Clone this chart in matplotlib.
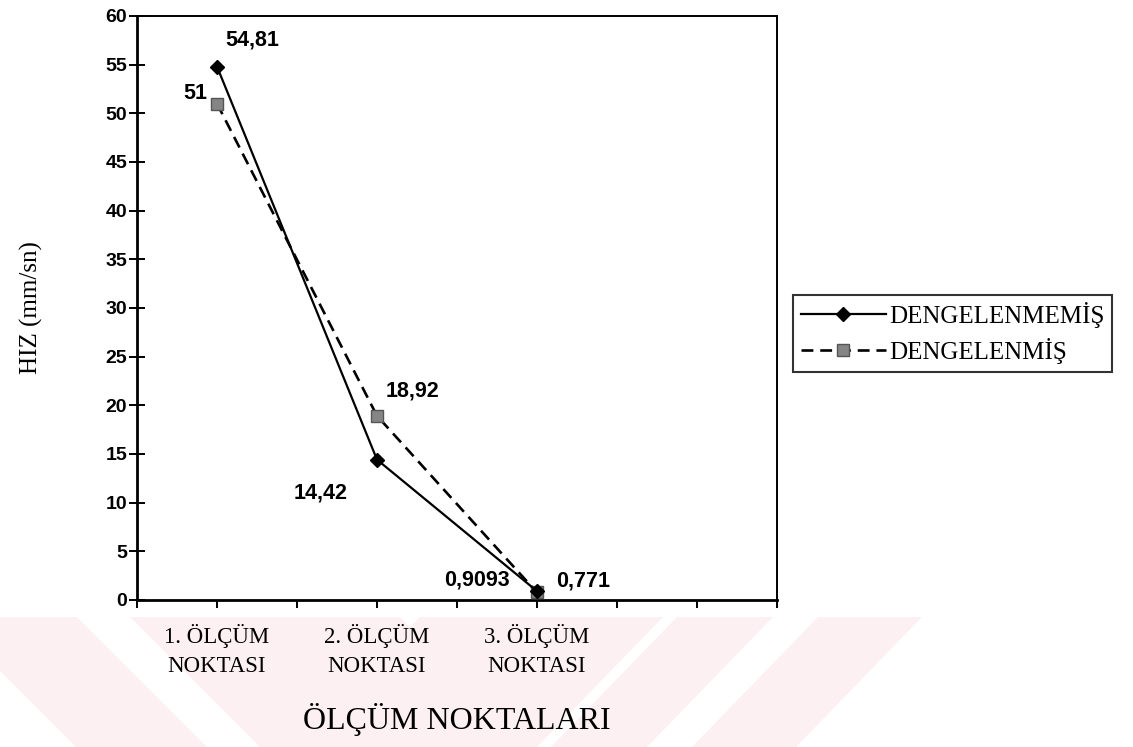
import numpy as np
import matplotlib
matplotlib.use("Agg")
import matplotlib.pyplot as plt
from matplotlib.patches import Polygon

# ---- data -------------------------------------------------------------
categories = ["1. ÖLÇÜM\nNOKTASI", "2. ÖLÇÜM\nNOKTASI", "3. ÖLÇÜM\nNOKTASI"]
dengelenmemis = [54.81, 14.42, 0.9093]
dengelenmis = [51.0, 18.92, 0.771]
lbl_dengelenmemis = ["54,81", "14,42", "0,9093"]
lbl_dengelenmis = ["51", "18,92", "0,771"]
y_ticks = list(range(0, 61, 5))

W, H = 1133, 747
fig = plt.figure(figsize=(W / 100, H / 100), dpi=100)
fig.patch.set_facecolor("white")

# faint diagonal band decoration along the bottom of the page
bands = [
    [(-54, 617), (77, 617), (207, 747), (76, 747)],
    [(130, 617), (400, 617), (530, 747), (260, 747)],
    [(420, 617), (663, 617), (537, 747), (294, 747)],
    [(677, 617), (773, 617), (647, 747), (551, 747)],
    [(818, 617), (922, 617), (796, 747), (692, 747)],
]
for b in bands:
    pts = [(px / W, 1 - py / H) for px, py in b]
    fig.add_artist(Polygon(pts, closed=True, transform=fig.transFigure,
                           facecolor="#fdf0f3", edgecolor="none", zorder=-5))

ax = fig.add_axes([137 / W, 1 - 600 / H, 640 / W, 584 / H])
ax.set_facecolor("white")

x = np.arange(len(categories))

ln1, = ax.plot(x, dengelenmemis, color="black", lw=1.6, marker="D",
               ms=7.5, mfc="black", mec="black", zorder=4,
               label="DENGELENMEMİŞ")
ln2, = ax.plot(x, dengelenmis, color="black", lw=1.9, ls=(0, (4.5, 2.6)),
               marker="s", ms=8, mfc="#858585", mec="#555555", mew=1.0,
               zorder=3, label="DENGELENMİŞ")

# value labels
lab_font = dict(family="Liberation Sans", fontweight="bold", fontsize=15.5)
offs1 = [(8, 27, "left"), (-29, -33, "right"), (-27, 11, "right")]
offs2 = [(-10, 10, "right"), (9, 25, "left"), (19, 11, "left")]
for xi, v, t, (dx, dy, ha) in zip(x, dengelenmemis, lbl_dengelenmemis, offs1):
    ax.annotate(t, (xi, v), xytext=(dx, dy), textcoords="offset pixels",
                ha=ha, va="center", **lab_font)
for xi, v, t, (dx, dy, ha) in zip(x, dengelenmis, lbl_dengelenmis, offs2):
    ax.annotate(t, (xi, v), xytext=(dx, dy), textcoords="offset pixels",
                ha=ha, va="center", **lab_font)

# axes limits and ticks
ax.set_xlim(-0.5, 3.5)
ax.set_ylim(0, 60)
ax.set_yticks(y_ticks)
ax.set_yticklabels([str(v) for v in y_ticks], family="Liberation Sans",
                   fontweight="bold", fontsize=14)
xt = np.arange(-0.5, 3.51, 0.5)
ax.set_xticks(xt)
ax.set_xticklabels([categories[int(t)] if (t >= 0 and t == int(t) and int(t) < len(categories)) else ""
                    for t in xt],
                   family="Liberation Serif", fontsize=16.5, linespacing=1.55)
ax.tick_params(axis="y", direction="inout", length=12, width=1.4, pad=1)
ax.tick_params(axis="x", direction="out", length=6, width=1.4, pad=11)

for side in ["left", "bottom"]:
    ax.spines[side].set_linewidth(2.0)
for side in ["top", "right"]:
    ax.spines[side].set_linewidth(1.4)

ax.set_ylabel("HIZ (mm/sn)", family="Liberation Serif", fontsize=18)
ax.yaxis.set_label_coords((43 - 137) / 640, 0.5)
ax.set_xlabel("ÖLÇÜM NOKTALARI", family="Liberation Serif", fontsize=23)
ax.xaxis.label.set_va("center")
ax.xaxis.set_label_coords(0.5, (600 - 720) / 584)

leg = fig.legend(handles=[ln1, ln2], loc="center left",
                 bbox_to_anchor=(793 / W, 1 - 333 / H),
                 prop={"family": "Liberation Serif", "size": 18},
                 frameon=True, fancybox=False, edgecolor="black",
                 handlelength=3.4, handletextpad=0.15, borderpad=0.3,
                 labelspacing=0.4, borderaxespad=0)
leg.get_frame().set_linewidth(1.5)

fig.savefig("out.png", dpi=100, facecolor="white")
